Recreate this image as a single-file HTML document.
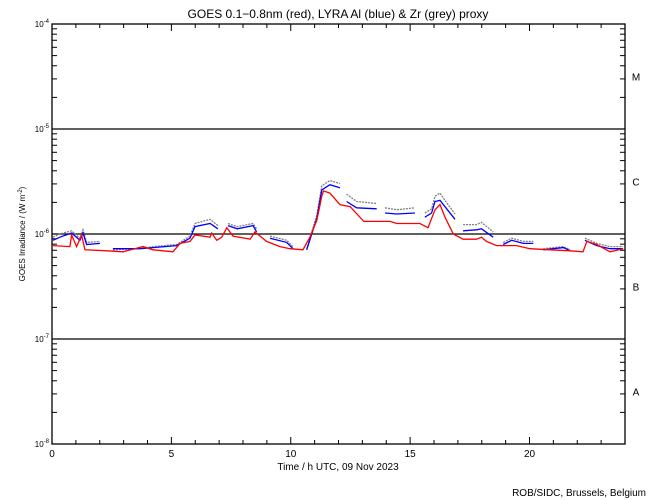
<!DOCTYPE html>
<html><head><meta charset="utf-8"><style>
body{margin:0;background:#fff;}
svg{display:block;font-family:"Liberation Sans",sans-serif;}
</style></head><body>
<svg id="chart" width="650" height="500" viewBox="0 0 650 500">
<rect width="650" height="500" fill="#fff"/>
<text x="338" y="18" font-size="12" text-anchor="middle">GOES 0.1−0.8nm (red), LYRA Al (blue) &amp; Zr (grey) proxy</text>
<text x="338" y="470" font-size="10" text-anchor="middle">Time / h UTC, 09 Nov 2023</text>
<text x="646" y="496" font-size="10" text-anchor="end">ROB/SIDC, Brussels, Belgium</text>
<text transform="translate(25,234) rotate(-90)" font-size="8" text-anchor="middle">GOES Irradiance / (W m<tspan dy="-3" font-size="6">-2</tspan><tspan dy="3">)</tspan></text>
<g id="axes"></g>
<g id="series"></g>
</svg>
<script>
const hoursRed=[0.04,0.75,0.82,1.03,1.24,1.38,2.29,2.97,3.81,4.23,5.07,5.36,5.78,5.99,6.62,6.69,6.90,7.11,7.32,7.58,8.30,8.50,8.99,9.55,9.97,10.51,10.80,11.09,11.30,11.37,11.64,12.06,12.49,13.06,14.16,14.44,15.41,15.75,16.04,16.25,16.46,16.81,17.22,17.78,17.99,18.20,18.62,19.46,20.02,20.86,21.70,22.24,22.40,22.82,23.37,23.92];
const logRed=[-6.11,-6.12,-6.01,-6.12,-6.01,-6.15,-6.16,-6.17,-6.12,-6.15,-6.17,-6.09,-6.07,-6.01,-6.03,-5.99,-6.06,-6.03,-5.94,-6.02,-6.05,-5.98,-6.07,-6.12,-6.14,-6.15,-6.03,-5.87,-5.64,-5.59,-5.61,-5.72,-5.74,-5.88,-5.88,-5.90,-5.90,-5.94,-5.77,-5.72,-5.84,-6.00,-6.05,-6.05,-6.03,-6.07,-6.11,-6.11,-6.14,-6.15,-6.16,-6.17,-6.07,-6.10,-6.17,-6.14];
const hoursBlue=[0.04,0.33,0.82,1.17,1.30,1.45,2.01,null,2.55,3.69,4.23,5.22,5.78,5.99,6.62,6.95,null,7.37,7.76,8.42,8.57,null,9.13,9.83,10.09,null,10.67,11.09,11.30,11.64,12.06,null,12.34,12.76,13.60,null,13.95,14.44,15.20,null,15.62,15.90,16.04,16.25,16.46,16.88,null,17.22,17.78,17.99,18.48,null,18.90,19.25,19.74,20.16,null,20.58,21.42,21.70,null,22.32,22.82,23.37,23.92];
const logBlue=[-6.06,-6.03,-5.99,-6.06,-5.99,-6.10,-6.09,null,-6.14,-6.14,-6.13,-6.11,-6.04,-5.93,-5.90,-5.95,null,-5.92,-5.95,-5.92,-5.98,null,-6.04,-6.08,-6.14,null,-6.15,-5.85,-5.58,-5.53,-5.56,null,-5.69,-5.75,-5.76,null,-5.80,-5.81,-5.80,null,-5.84,-5.80,-5.69,-5.68,-5.74,-5.86,null,-5.97,-5.96,-5.95,-6.03,null,-6.10,-6.06,-6.09,-6.09,null,-6.15,-6.13,-6.16,null,-6.06,-6.11,-6.14,-6.14];
const logGrey=[-6.03,-6.00,-5.97,-6.04,-5.96,-6.08,-6.07,null,-6.15,-6.14,-6.12,-6.10,-6.02,-5.90,-5.86,-5.92,null,-5.90,-5.93,-5.90,-5.95,null,-6.02,-6.06,-6.12,null,-6.14,-5.82,-5.54,-5.49,-5.52,null,-5.62,-5.69,-5.71,null,-5.75,-5.77,-5.75,null,-5.80,-5.76,-5.64,-5.61,-5.68,-5.81,null,-5.91,-5.91,-5.89,-5.98,null,-6.08,-6.04,-6.07,-6.07,null,-6.14,-6.12,-6.15,null,-6.04,-6.09,-6.12,-6.12];
const xTicks=[0,5,10,15,20];
const yDecades=[-4,-5,-6,-7,-8];
const classLabels=["M","C","B","A"];

const NS="http://www.w3.org/2000/svg";
const L=52,R=625,T=24,B=444;
const X=h=>L+(h/24)*(R-L);
const Y=lg=>T+(-4-lg)*(B-T)/4;
const axes=document.getElementById('axes'),ser=document.getElementById('series');
function mk(tag,at,parent){const e=document.createElementNS(NS,tag);for(const k in at)e.setAttribute(k,at[k]);parent.appendChild(e);return e;}

const frame=mk('rect',{x:L,y:T,width:R-L,height:B-T,fill:'none',stroke:'#000','stroke-width':1.3},axes);


for(let h=0;h<=24;h++){
  const len=(h%5===0)?7:4;
  const t1=mk('line',{x1:X(h),x2:X(h),y1:B,y2:B-len,stroke:'#000'},axes);
  
  
  const t2=mk('line',{x1:X(h),x2:X(h),y1:T,y2:T+len,stroke:'#000'},axes);
  
  
}
xTicks.forEach(v=>{
  const t=mk('text',{x:X(v),y:B+13,'font-size':10,'text-anchor':'middle'},axes);t.textContent=v;
  
  
});
yDecades.forEach((d,i)=>{
  const y=Y(d);
  if(d<-4&&d>-8){
    const gl=mk('line',{x1:L,x2:R,y1:y,y2:y,stroke:'#000','stroke-width':1.3},axes);
    
    
  }
  const t=mk('text',{x:L-3,y:y+3,'font-size':8,'text-anchor':'end'},axes);
  t.innerHTML='10<tspan dy="-4" font-size="6">'+d+'</tspan>';
  
  
  if(d>-8){for(let m=2;m<=9;m++){
    const yy=Y(d-1+Math.log10(m));
    const a=mk('line',{x1:L,x2:L+5,y1:yy,y2:yy,stroke:'#000'},axes);
    
    
    const b=mk('line',{x1:R,x2:R-5,y1:yy,y2:yy,stroke:'#000'},axes);
    
    
  }}
});
classLabels.forEach((c,i)=>{
  const t=mk('text',{x:636,y:Y(-4.5-i)+4,'font-size':10,'text-anchor':'middle'},axes);t.textContent=c;
  
  
});
function draw(hs,vs,color,name){
  let segs=[],cur=[];
  hs.forEach((h,i)=>{if(h===null||vs[i]===null){if(cur.length)segs.push(cur);cur=[];}else cur.push(X(h).toFixed(1)+','+Y(vs[i]).toFixed(1));});
  if(cur.length)segs.push(cur);
  segs.forEach(s=>{
    const p=mk('polyline',{points:s.join(' '),fill:'none',stroke:color,'stroke-width':1.3,'stroke-dasharray':name==='zr-grey-series'?'2 1':'none'},ser);
    
    
  });
}
draw(hoursBlue,logGrey,'#808080','zr-grey-series');
draw(hoursBlue,logBlue,'#0000ff','al-blue-series');
draw(hoursRed,logRed,'#ff0000','goes-red-series');
</script>
</body></html>
